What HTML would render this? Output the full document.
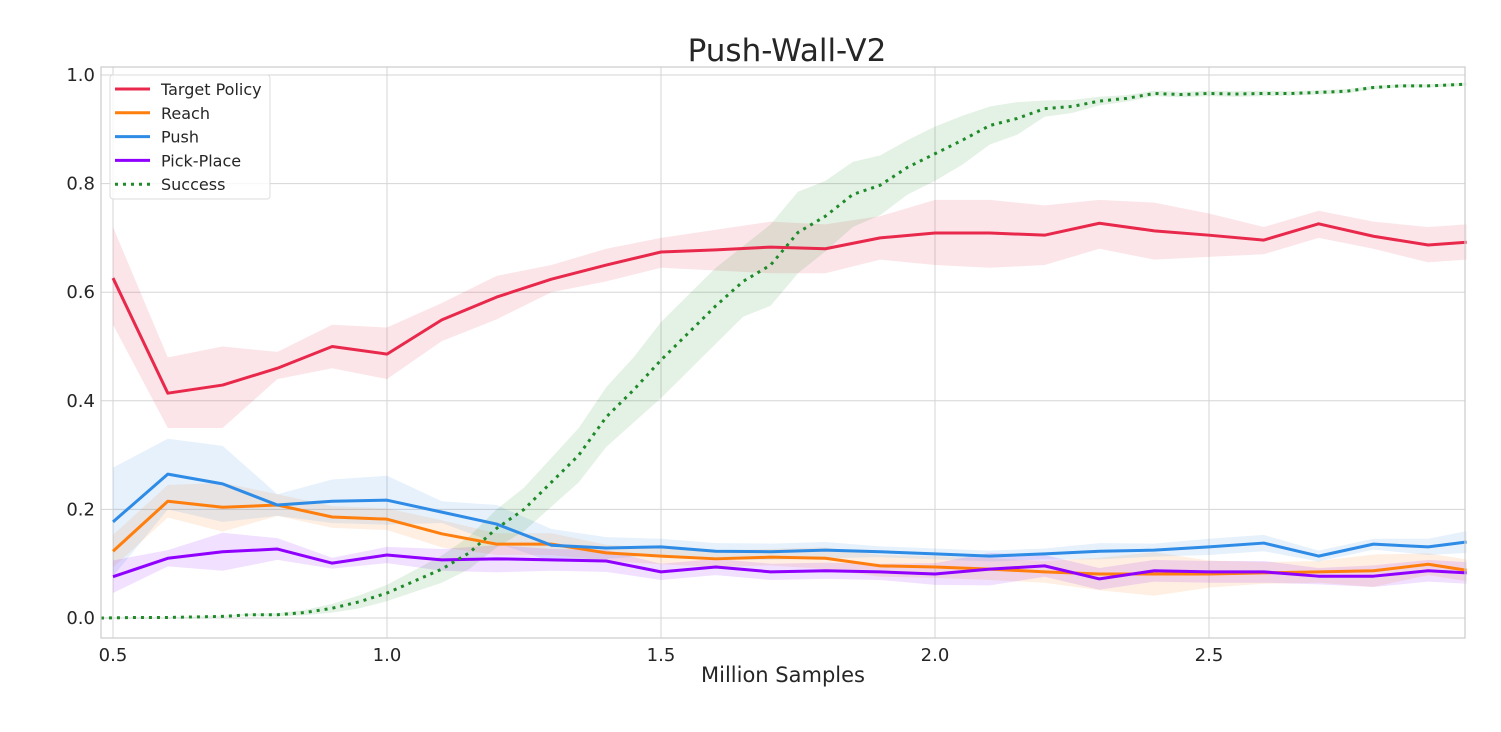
<!DOCTYPE html>
<html><head><meta charset="utf-8"><style>
html,body{margin:0;padding:0;background:#fff;}
svg{display:block;font-family:"DejaVu Sans","Liberation Sans",sans-serif;}
</style></head><body>
<svg id="chart" width="1501" height="732">
<text x="787" y="61" font-size="31" fill="#262626" text-anchor="middle">Push-Wall-V2</text>
<text x="783" y="682" font-size="21" fill="#262626" text-anchor="middle">Million Samples</text>
<g id="grid"></g><g id="bands"></g><g id="lines"></g><g id="ticks"></g>
<rect x="101" y="67" width="1364" height="571" fill="none" stroke="#cccccc" stroke-width="1.2"/>
<g>
<rect x="110" y="75" width="160" height="124" rx="3" fill="#fff" fill-opacity="0.8" stroke="#dddddd"/>
<g id="legend-items"></g>
</g>
</svg>
<script>
const xs = [0.5,0.6,0.7,0.8,0.9,1.0,1.1,1.2,1.3,1.4,1.5,1.6,1.7,1.8,1.9,2.0,2.1,2.2,2.3,2.4,2.5,2.6,2.7,2.8,2.9,2.97];
const targetMean = [0.626,0.414,0.429,0.46,0.50,0.486,0.549,0.591,0.624,0.65,0.674,0.678,0.683,0.68,0.70,0.709,0.709,0.705,0.727,0.713,0.705,0.696,0.726,0.703,0.687,0.692];
const targetLo = [0.54,0.35,0.35,0.44,0.46,0.44,0.51,0.55,0.60,0.62,0.645,0.64,0.635,0.635,0.66,0.65,0.645,0.65,0.68,0.66,0.665,0.67,0.70,0.68,0.655,0.66];
const targetHi = [0.72,0.48,0.50,0.49,0.54,0.535,0.58,0.63,0.65,0.68,0.70,0.715,0.73,0.725,0.74,0.77,0.77,0.76,0.77,0.765,0.745,0.72,0.75,0.73,0.72,0.725];
const reachMean = [0.123,0.215,0.204,0.208,0.186,0.182,0.155,0.136,0.136,0.12,0.114,0.109,0.112,0.11,0.096,0.094,0.09,0.085,0.081,0.081,0.081,0.083,0.085,0.087,0.099,0.088];
const reachHalf = [0.03,0.03,0.045,0.02,0.02,0.02,0.025,0.02,0.02,0.015,0.015,0.015,0.015,0.02,0.02,0.02,0.02,0.02,0.03,0.04,0.025,0.02,0.02,0.03,0.02,0.02];
const pushMean = [0.177,0.265,0.247,0.208,0.215,0.217,0.195,0.173,0.134,0.129,0.131,0.123,0.122,0.125,0.122,0.118,0.114,0.118,0.123,0.125,0.131,0.138,0.114,0.136,0.131,0.14];
const pushHalf = [0.1,0.065,0.07,0.02,0.04,0.045,0.02,0.035,0.03,0.02,0.015,0.015,0.015,0.015,0.01,0.01,0.01,0.01,0.015,0.012,0.015,0.015,0.01,0.01,0.015,0.02];
const pickMean = [0.076,0.11,0.122,0.127,0.101,0.116,0.107,0.109,0.107,0.105,0.085,0.094,0.085,0.087,0.085,0.081,0.09,0.096,0.072,0.087,0.085,0.085,0.077,0.077,0.087,0.083];
const pickHalf = [0.03,0.015,0.035,0.02,0.01,0.015,0.02,0.025,0.02,0.02,0.015,0.015,0.015,0.015,0.015,0.02,0.03,0.02,0.02,0.02,0.02,0.02,0.015,0.02,0.02,0.02];
const succX = [0.478,0.55,0.6,0.65,0.7,0.75,0.8,0.85,0.9,0.95,1.0,1.05,1.1,1.15,1.2,1.25,1.3,1.35,1.4,1.45,1.5,1.55,1.6,1.65,1.7,1.75,1.8,1.85,1.9,1.95,2.0,2.05,2.1,2.15,2.2,2.25,2.3,2.35,2.4,2.45,2.5,2.55,2.6,2.65,2.7,2.75,2.8,2.85,2.9,2.97];
const succMean = [0,0.001,0.001,0.002,0.003,0.006,0.006,0.01,0.018,0.03,0.046,0.068,0.09,0.12,0.165,0.2,0.25,0.3,0.37,0.42,0.475,0.525,0.575,0.62,0.65,0.71,0.74,0.78,0.797,0.83,0.855,0.88,0.907,0.92,0.938,0.942,0.952,0.957,0.966,0.964,0.966,0.965,0.966,0.966,0.968,0.97,0.977,0.98,0.98,0.983];
const succHalf = [0,0,0,0.001,0.001,0.002,0.003,0.005,0.008,0.012,0.015,0.02,0.025,0.03,0.035,0.04,0.045,0.05,0.055,0.06,0.07,0.07,0.07,0.065,0.075,0.075,0.065,0.06,0.055,0.05,0.05,0.045,0.035,0.03,0.015,0.012,0.008,0.006,0.005,0.005,0.005,0.005,0.005,0.004,0.004,0.004,0.003,0.003,0.003,0.003];
const xTicks = [0.5,1.0,1.5,2.0,2.5];
const xTickLabels = ["0.5","1.0","1.5","2.0","2.5"];
const yTicks = [0,0.2,0.4,0.6,0.8,1.0];
const yTickLabels = ["0.0","0.2","0.4","0.6","0.8","1.0"];
const legendLabels = ["Target Policy","Reach","Push","Pick-Place","Success"];

const NS="http://www.w3.org/2000/svg";
const X = v => 113 + (v-0.5)*548;
const Y = v => 618 - v*543;
function mk(tag, attrs, parent){const e=document.createElementNS(NS,tag);for(const k in attrs)e.setAttribute(k,attrs[k]);document.getElementById(parent).appendChild(e);return e;}
xTicks.forEach((t,i)=>{
  const g=mk('line',{x1:X(t),x2:X(t),y1:67,y2:638,stroke:'#d5d5d5','stroke-width':1},'grid');
  
  
  const l=mk('text',{x:X(t),y:661,'font-size':18,fill:'#262626','text-anchor':'middle'},'ticks');
  l.textContent=xTickLabels[i];
  
  
});
yTicks.forEach((t,i)=>{
  const g=mk('line',{x1:101,x2:1465,y1:Y(t),y2:Y(t),stroke:'#d5d5d5','stroke-width':1},'grid');
  
  
  const l=mk('text',{x:95,y:Y(t)+6,'font-size':18,fill:'#262626','text-anchor':'end'},'ticks');
  l.textContent=yTickLabels[i];
  
  
});
function band(xa,lo,hi,color,name){
  let d='M'+xa.map((x,i)=>X(x)+','+Y(hi[i])).join('L');
  for(let i=xa.length-1;i>=0;i--) d+='L'+X(xa[i])+','+Y(lo[i]);
  const p=mk('path',{d:d+'Z',fill:color,'fill-opacity':0.12,stroke:'none'},'bands');
  
  
}
function line(xa,ya,color,name,dash){
  const a={d:'M'+xa.map((x,i)=>X(x)+','+Y(ya[i])).join('L'),fill:'none',stroke:color,'stroke-width':3,'stroke-linejoin':'round'};
  if(dash)a['stroke-dasharray']=dash;
  const p=mk('path',a,'lines');
  
  
}
const lo=(m,h)=>m.map((v,i)=>v-h[i]), hi=(m,h)=>m.map((v,i)=>v+h[i]);
band(xs,targetLo,targetHi,'#e8294c','target-policy-band');
band(xs,lo(reachMean,reachHalf),hi(reachMean,reachHalf),'#ff7f0e','reach-band');
band(xs,lo(pushMean,pushHalf),hi(pushMean,pushHalf),'#2e8be6','push-band');
band(xs,lo(pickMean,pickHalf),hi(pickMean,pickHalf),'#8f00ff','pick-place-band');
band(succX,lo(succMean,succHalf),hi(succMean,succHalf),'#1f8a2a','success-band');
line(xs,targetMean,'#e8294c','target-policy-line');
line(xs,reachMean,'#ff7f0e','reach-line');
line(xs,pushMean,'#2e8be6','push-line');
line(xs,pickMean,'#8f00ff','pick-place-line');
line(succX,succMean,'#1f8a2a','success-line','3 5');
const lc=['#e8294c','#ff7f0e','#2e8be6','#8f00ff','#1f8a2a'];
legendLabels.forEach((t,i)=>{
  const y=89+i*23.8;
  const a={x1:115,x2:150,y1:y,y2:y,stroke:lc[i],'stroke-width':3};
  if(i===4)a['stroke-dasharray']='3 5';
  const s=mk('line',a,'legend-items');
  
  
  const l=mk('text',{x:161,y:y+6,'font-size':16,fill:'#262626'},'legend-items');
  l.textContent=t;
  
  
});
</script>
</body></html>
